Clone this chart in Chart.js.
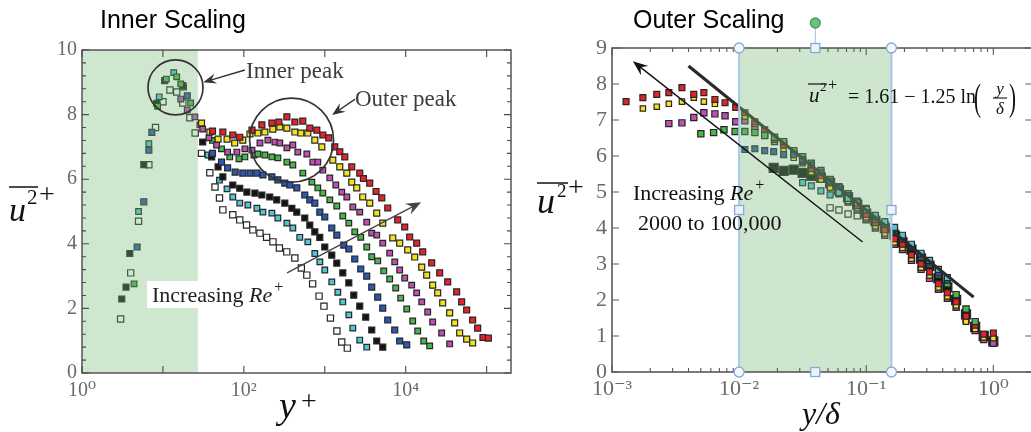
<!DOCTYPE html>
<html>
<head>
<meta charset="utf-8">
<script src="https://cdn.jsdelivr.net/npm/chart.js@4.4.1/dist/chart.umd.min.js"></script>
<style>
  html, body { margin: 0; padding: 0; background: #fff; overflow: hidden; width: 1031px; height: 432px; }
  #wrap { position: relative; width: 1031px; height: 432px; overflow: hidden; background: #fff; }
  #c1 { position: absolute; left: 0; top: 0; }
  #c2 { position: absolute; left: 520px; top: 0; }
</style>
</head>
<body>
<div id="wrap">
  <canvas id="c1" width="520" height="432"></canvas>
  <canvas id="c2" width="520" height="432"></canvas>
</div>
<script>
// ================= DATA: Inner scaling (left) =================
const innerXTicks = [1, 100, 10000];
const innerXTickLabels = ['10\u2070', '10\u00B2', '10\u2074'];
const innerYTicks = [0, 2, 4, 6, 8, 10];
const innerShade = [1, 27];           // y+ range of the green band

const innerWhiteYp = [3.0, 4.0, 5.0, 6.7, 8.1, 10, 12.2, 14.8, 17.6, 21.5, 25, 30, 38, 44, 50, 55, 73, 89, 108, 129, 158, 191, 229, 275, 339, 427, 513, 600, 708, 850, 977, 1175, 1413, 1620, 1900];
const innerWhiteU  = [1.67, 3.1, 4.7, 6.45, 7.6, 8.4, 8.76, 8.7, 8.36, 7.9, 7.43, 6.8, 6.2, 5.76, 5.42, 5.05, 4.9, 4.74, 4.58, 4.43, 4.33, 4.2, 4.06, 3.87, 3.75, 3.56, 3.25, 3.03, 2.76, 2.38, 2.07, 1.7, 1.3, 0.96, 0.77];

const innerCyanYp = [5.0, 6.7, 9.0, 13.6, 18, 36, 50, 62, 73, 89, 112, 145, 172, 222, 263, 340, 403, 491, 617, 753, 868, 1000, 1220, 1448, 1668, 1981, 2218, 2704, 3300];
const innerCyanU  = [5.0, 7.1, 8.55, 9.3, 8.85, 6.75, 5.97, 5.7, 5.45, 5.26, 5.2, 5.1, 4.98, 4.95, 4.8, 4.64, 4.49, 4.2, 4.06, 3.7, 3.44, 3.19, 2.82, 2.5, 2.2, 1.8, 1.39, 1.02, 0.8];

const innerBlackYp = [3.1, 3.5, 3.9, 5.8, 8.4, 10.5, 17.6, 31, 40, 48, 55, 73, 89, 109, 137, 167, 209, 255, 321, 392, 451, 566, 653, 753, 868, 1000, 1220, 1407, 1668, 1981, 2281, 2704, 3207, 3803, 4386, 5203];
const innerBlackU  = [2.29, 2.66, 3.7, 6.45, 8.35, 9.05, 8.9, 7.15, 6.69, 6.38, 6.07, 5.82, 5.72, 5.6, 5.57, 5.51, 5.45, 5.36, 5.26, 5.1, 4.98, 4.8, 4.58, 4.37, 4.2, 3.9, 3.65, 3.4, 3.1, 2.79, 2.41, 2.07, 1.73, 1.33, 0.99, 0.8];

const innerBlueYp = [4.8, 5.8, 6.7, 7.3, 20, 41, 53, 63, 78, 97, 119, 145, 172, 222, 263, 321, 370, 451, 566, 653, 753, 868, 1000, 1220, 1407, 1717, 1981, 2346, 2782, 3300, 3803, 4510, 5203, 5997, 7318, 8430, 10290];
const innerBlueU  = [3.9, 5.3, 6.9, 7.45, 8.58, 6.8, 6.53, 6.35, 6.22, 6.19, 6.19, 6.19, 6.13, 6.07, 5.98, 5.88, 5.82, 5.73, 5.51, 5.36, 5.26, 4.98, 4.83, 4.49, 4.27, 3.96, 3.84, 3.53, 3.22, 3.0, 2.66, 2.35, 2.01, 1.64, 1.33, 0.99, 0.87];

const innerGreenYp = [4.4, 8.6, 11, 14.8, 16.6, 22, 41, 53, 67, 87, 103, 133, 149, 182, 222, 263, 340, 403, 535, 692, 820, 945, 1153, 1407, 1668, 1981, 2346, 2782, 3300, 3803, 4510, 5350, 6340, 7530, 8670, 10290, 12200, 14060, 16690, 19780];
const innerGreenU  = [2.76, 8.26, 9.1, 9.17, 8.95, 8.36, 7.2, 6.94, 6.69, 6.63, 6.69, 6.75, 6.78, 6.75, 6.69, 6.66, 6.53, 6.44, 6.19, 5.91, 5.73, 5.57, 5.36, 5.17, 4.86, 4.64, 4.37, 4.2, 3.9, 3.6, 3.47, 3.16, 2.91, 2.63, 2.32, 1.98, 1.61, 1.3, 0.99, 0.84];

const innerMagentaYp = [16.6, 20, 24.8, 28.6, 31, 37, 46, 63, 82, 103, 126, 158, 198, 242, 278, 340, 403, 464, 600, 711, 820, 945, 1153, 1368, 1622, 1871, 2218, 2704, 3300, 3803, 4386, 5203, 6340, 7318, 8430, 9720, 11860, 13660, 15770, 18690, 21540, 27810, 34930];
const innerMagentaU  = [8.48, 8.14, 7.93, 7.68, 7.55, 7.28, 7.06, 6.84, 6.84, 6.94, 6.9, 7.12, 7.21, 7.15, 7.12, 6.97, 7.06, 6.84, 6.78, 6.53, 6.53, 6.28, 6.04, 5.82, 5.6, 5.45, 5.14, 4.98, 4.67, 4.33, 4.27, 4.02, 3.71, 3.44, 3.19, 2.94, 2.72, 2.48, 2.2, 1.89, 1.58, 1.24, 0.9];

const innerYellowYp = [30, 38, 48, 62, 77, 97, 119, 149, 182, 228, 278, 340, 427, 506, 617, 753, 919, 1256, 1532, 1871, 2154, 2483, 2944, 3594, 4386, 5203, 6918, 8430, 10590, 12910, 15770, 18160, 21540, 24830, 28620, 34930, 40240, 46420, 56630, 67140];
const innerYellowU  = [7.74, 7.46, 7.24, 7.24, 7.12, 7.21, 7.4, 7.43, 7.46, 7.55, 7.62, 7.58, 7.46, 7.43, 7.43, 7.21, 7.0, 6.59, 6.38, 6.19, 5.91, 5.73, 5.45, 5.26, 4.95, 4.64, 4.18, 4.02, 3.81, 3.59, 3.28, 3.03, 2.72, 2.48, 2.17, 1.86, 1.55, 1.24, 1.05, 0.93];

const innerRedYp = [41, 55, 73, 89, 126, 167, 222, 271, 340, 427, 535, 653, 797, 945, 1120, 1329, 1532, 1767, 2154, 2704, 3000, 3594, 4300, 5060, 5997, 7966, 9720, 11200, 13660, 16220, 20940, 26280, 33020, 42590, 49120, 56630, 67140, 77490, 90000, 105000];
const innerRedU  = [7.49, 7.46, 7.37, 7.3, 7.52, 7.68, 7.74, 7.77, 7.93, 7.77, 7.8, 7.58, 7.52, 7.37, 7.28, 7.0, 6.85, 6.69, 6.38, 6.19, 6.02, 5.88, 5.62, 5.42, 5.11, 4.74, 4.52, 4.21, 4.02, 3.75, 3.41, 3.1, 2.82, 2.51, 2.2, 1.95, 1.64, 1.39, 1.1, 1.08];

// annotations (data coordinates: y+, u2+)
const innerPeakCircle = [14.3, 8.84];
const outerPeakCircle = [389, 7.21];
const innerPeakArrow = [[103, 9.38], [31.5, 9.0]];
const outerPeakArrow = [[2367, 8.48], [1231, 7.99]];
const innerReArrow   = [[342, 3.10], [15500, 5.29]];

// ================= DATA: Outer scaling (right) =================
const outerXTicks = [0.001, 0.01, 0.1, 1];
const outerXTickLabels = ['10\u207B\u00B3', '10\u207B\u00B2', '10\u207B\u00B9', '10\u2070'];
const outerYTicks = [0, 1, 2, 3, 4, 5, 6, 7, 8, 9];
const outerShade = [0.01, 0.158];

const outerRedYd = [0.00129, 0.00175, 0.00225, 0.0028, 0.00355, 0.0044, 0.00528, 0.00645, 0.00775, 0.0094, 0.0111, 0.0133, 0.0159, 0.019, 0.0224, 0.0269, 0.0316, 0.037, 0.044, 0.052, 0.061, 0.072, 0.085, 0.1, 0.118, 0.14, 0.167, 0.193, 0.227, 0.27, 0.315, 0.37, 0.435, 0.51, 0.61, 0.72, 0.84, 1.0];
const outerRedU  = [7.51, 7.62, 7.71, 7.76, 7.9, 7.71, 7.76, 7.57, 7.48, 7.35, 7.2, 6.95, 6.73, 6.46, 6.3, 6.08, 5.85, 5.65, 5.45, 5.25, 5.05, 4.85, 4.62, 4.38, 4.15, 3.95, 3.7, 3.55, 3.25, 3.0, 2.78, 2.45, 2.2, 1.95, 1.55, 1.3, 1.05, 1.08];

const outerYellowYd = [0.00175, 0.00225, 0.0028, 0.00355, 0.0044, 0.00528, 0.00645, 0.0111, 0.0133, 0.0159, 0.019, 0.0224, 0.0269, 0.0316, 0.037, 0.044, 0.052, 0.061, 0.072, 0.085, 0.1, 0.118, 0.14, 0.167, 0.193, 0.227, 0.27, 0.315, 0.37, 0.435, 0.51, 0.61, 0.72, 0.84, 1.0];
const outerYellowU  = [7.32, 7.37, 7.45, 7.51, 7.62, 7.51, 7.45, 7.1, 6.9, 6.62, 6.4, 6.2, 5.95, 5.8, 5.55, 5.35, 5.12, 4.95, 4.75, 4.55, 4.3, 4.05, 3.85, 3.6, 3.45, 3.15, 2.9, 2.68, 2.35, 2.1, 1.85, 1.4, 1.2, 0.96, 0.94];

const outerMagentaYd = [0.0028, 0.00355, 0.0044, 0.00528, 0.00645, 0.00775, 0.0094, 0.0111, 0.0133, 0.0159, 0.019, 0.0224, 0.0269, 0.0316, 0.037, 0.044, 0.052, 0.061, 0.072, 0.085, 0.1, 0.118, 0.14, 0.167, 0.193, 0.227, 0.27, 0.315, 0.37, 0.435, 0.51, 0.61, 0.72, 0.84, 1.0];
const outerMagentaU  = [6.9, 6.92, 7.07, 7.2, 7.17, 7.12, 6.95, 6.98, 6.8, 6.6, 6.4, 6.35, 6.1, 5.85, 5.62, 5.4, 5.15, 4.95, 4.72, 4.5, 4.25, 4.0, 3.8, 3.55, 3.4, 3.1, 2.85, 2.6, 2.3, 2.05, 1.8, 1.45, 1.15, 0.9, 0.8];

const outerGreenYd = [0.005, 0.0063, 0.0076, 0.0093, 0.0111, 0.0133, 0.0159, 0.019, 0.0224, 0.0269, 0.0316, 0.037, 0.044, 0.052, 0.061, 0.072, 0.085, 0.1, 0.118, 0.14, 0.167, 0.193, 0.227, 0.27, 0.315, 0.37, 0.435, 0.51, 0.61, 0.72];
const outerGreenU  = [6.62, 6.65, 6.73, 6.68, 6.68, 6.65, 6.57, 6.52, 6.4, 6.15, 5.98, 5.8, 5.6, 5.35, 5.15, 4.95, 4.72, 4.5, 4.25, 4.1, 3.9, 3.7, 3.48, 3.2, 3.0, 2.7, 2.45, 2.15, 1.75, 1.4];

const outerBlueYd = [0.0111, 0.0133, 0.0159, 0.0187, 0.0224, 0.0269, 0.0316, 0.037, 0.044, 0.052, 0.061, 0.072, 0.085, 0.1, 0.118, 0.14, 0.167, 0.193, 0.227, 0.27, 0.315, 0.37, 0.435];
const outerBlueU  = [6.18, 6.2, 6.15, 6.12, 6.04, 6.04, 5.9, 5.75, 5.55, 5.3, 5.12, 4.9, 4.75, 4.55, 4.3, 4.1, 3.98, 3.7, 3.5, 3.25, 3.05, 2.75, 2.55];

const outerBlackYd = [0.0187, 0.0224, 0.0269, 0.0316, 0.037, 0.044, 0.052, 0.061, 0.072, 0.085, 0.1, 0.118, 0.14, 0.167, 0.193, 0.227, 0.27, 0.315, 0.37, 0.435, 0.51, 0.61, 0.72, 0.84, 1.0];
const outerBlackU  = [5.67, 5.59, 5.62, 5.53, 5.45, 5.4, 5.25, 5.05, 4.85, 4.65, 4.4, 4.2, 4.0, 3.8, 3.6, 3.4, 3.15, 2.95, 2.6, 2.35, 2.0, 1.6, 1.25, 1.0, 0.85];

const outerCyanYd = [0.0316, 0.037, 0.044, 0.052, 0.061, 0.072, 0.085, 0.1, 0.118, 0.14, 0.167, 0.193, 0.227, 0.27, 0.315, 0.37, 0.435];
const outerCyanU  = [5.26, 5.17, 5.03, 4.92, 4.98, 4.82, 4.7, 4.52, 4.35, 4.18, 4.02, 3.8, 3.55, 3.3, 3.1, 2.85, 2.62];

const outerWhiteYd = [0.052, 0.061, 0.072, 0.085, 0.1, 0.118, 0.14];
const outerWhiteU  = [4.56, 4.5, 4.39, 4.34, 4.23, 4.1, 3.95];

// log-law fit line end points
const logLawYd = [0.004, 0.7];
const logLawU  = [8.5, 2.08];
const outerReArrow = [[0.0937, 3.61], [0.00146, 8.63]];

// ================= STYLE =================
const COL = { white:'#ffffff', cyan:'#52c6d8', black:'#141414', blue:'#2a58b6', green:'#48b648', magenta:'#c04fb4', yellow:'#f4e31c', red:'#e6222c' };
const SERIF = '"Liberation Serif", "DejaVu Serif", serif';
const SANS = '"Liberation Sans", Arial, sans-serif';
Chart.defaults.font.family = SERIF;

function pts(xs, ys) { return xs.map((v, i) => ({ x: v, y: ys[i] })); }
function sq(xs, ys, fill, r, order) {
  return { data: pts(xs, ys), showLine: false, pointStyle: 'rect', pointRadius: r, pointHoverRadius: r,
    pointBackgroundColor: fill, pointBorderColor: '#262626', pointBorderWidth: 1.2, order: order || 1 };
}

function T(ctx, s, x, y, font, color, align) {
  ctx.font = font; ctx.fillStyle = color; ctx.textAlign = align || 'left'; ctx.textBaseline = 'alphabetic';
  ctx.fillText(s, x, y); return ctx.measureText(s).width;
}
function tall(ctx, s, x, y, size, stretch, color) {
  ctx.save(); ctx.translate(x, y); ctx.scale(1, stretch);
  ctx.font = size + 'px ' + SERIF; ctx.fillStyle = color; ctx.textAlign = 'left'; ctx.textBaseline = 'alphabetic';
  ctx.fillText(s, 0, 0); ctx.restore();
}
function hline(ctx, x1, x2, y, lw, color) {
  ctx.beginPath(); ctx.strokeStyle = color; ctx.lineWidth = lw; ctx.moveTo(x1, y); ctx.lineTo(x2, y); ctx.stroke();
}
function arrow(ctx, x1, y1, x2, y2, color, lw, head) {
  ctx.save(); ctx.strokeStyle = color; ctx.fillStyle = color; ctx.lineWidth = lw;
  const a = Math.atan2(y2 - y1, x2 - x1), c = Math.cos(a), s = Math.sin(a);
  const bx = x2 - head * c, by = y2 - head * s;
  ctx.beginPath(); ctx.moveTo(x1, y1); ctx.lineTo(x2 - head * 0.6 * c, y2 - head * 0.6 * s); ctx.stroke();
  ctx.beginPath(); ctx.moveTo(x2, y2);
  ctx.lineTo(bx + head * 0.4 * s, by - head * 0.4 * c);
  ctx.lineTo(x2 - head * 0.65 * c, y2 - head * 0.65 * s);
  ctx.lineTo(bx - head * 0.4 * s, by + head * 0.4 * c);
  ctx.closePath(); ctx.fill(); ctx.restore();
}
function frameTicks(chart, o) {
  const { ctx, chartArea: a } = chart; const x = chart.scales.x, y = chart.scales.y;
  ctx.save(); ctx.strokeStyle = o.color; ctx.lineWidth = o.lw;
  ctx.strokeRect(a.left, a.top, a.right - a.left, a.bottom - a.top);
  ctx.beginPath(); ctx.lineWidth = 1.1;
  const tx = (v, L) => { const p = x.getPixelForValue(v); if (p < a.left - 0.5 || p > a.right + 0.5) return;
    ctx.moveTo(p, a.bottom); ctx.lineTo(p, a.bottom - L); ctx.moveTo(p, a.top); ctx.lineTo(p, a.top + L); };
  const ty = (v, L) => { const p = y.getPixelForValue(v);
    ctx.moveTo(a.left, p); ctx.lineTo(a.left + L, p); ctx.moveTo(a.right, p); ctx.lineTo(a.right - L, p); };
  o.xMajor.forEach(v => tx(v, 7)); o.xMinor.forEach(v => tx(v, 4));
  o.yMajor.forEach(v => ty(v, 7)); o.yMinor.forEach(v => ty(v, 4));
  ctx.stroke(); ctx.restore();
}
function logMinors(lo, hi) { const out = []; for (let d = lo; d < hi; d *= 10) for (let m = 2; m <= 9; m++) out.push(m * d); return out; }
function linMinors(lo, hi, step, major) { const out = []; for (let v = lo; v <= hi + 1e-9; v += step) { if (major.every(m => Math.abs(m - v) > 1e-6)) out.push(+v.toFixed(3)); } return out; }

// ================= LEFT CHART =================
const innerPlugin = {
  id: 'innerDeco',
  afterDatasetsDraw(chart) {
    const { ctx, chartArea: a } = chart; const x = chart.scales.x, y = chart.scales.y;
    const X = v => x.getPixelForValue(v), Y = v => y.getPixelForValue(v);
    ctx.save();
    ctx.fillStyle = 'rgba(118,186,118,0.35)';
    ctx.fillRect(X(innerShade[0]), a.top, X(innerShade[1]) - X(innerShade[0]), a.bottom - a.top);
    frameTicks(chart, { color: '#4a4a4a', lw: 1.4, xMajor: [1, 10, 100, 1000, 10000, 100000], xMinor: [],
      yMajor: innerYTicks, yMinor: linMinors(0, 10, 0.4, innerYTicks) });
    ctx.strokeStyle = '#333'; ctx.lineWidth = 1.7;
    ctx.beginPath(); ctx.arc(X(innerPeakCircle[0]), Y(innerPeakCircle[1]), 27.5, 0, 2 * Math.PI); ctx.stroke();
    ctx.beginPath(); ctx.arc(X(outerPeakCircle[0]), Y(outerPeakCircle[1]), 42, 0, 2 * Math.PI); ctx.stroke();
    arrow(ctx, X(innerPeakArrow[0][0]), Y(innerPeakArrow[0][1]), X(innerPeakArrow[1][0]), Y(innerPeakArrow[1][1]), '#333', 1.4, 13);
    arrow(ctx, X(outerPeakArrow[0][0]), Y(outerPeakArrow[0][1]), X(outerPeakArrow[1][0]), Y(outerPeakArrow[1][1]), '#333', 1.4, 13);
    arrow(ctx, X(innerReArrow[0][0]), Y(innerReArrow[0][1]), X(innerReArrow[1][0]), Y(innerReArrow[1][1]), '#444', 1.4, 15);
    T(ctx, 'Inner peak', 246, 78, '23px ' + SERIF, '#3d3d3d');
    T(ctx, 'Outer peak', 355, 106, '23px ' + SERIF, '#3d3d3d');
    ctx.fillStyle = '#fff'; ctx.fillRect(147, 281, 144, 27);
    let w = T(ctx, 'Increasing ', 152, 302, '22px ' + SERIF, '#222');
    w += T(ctx, 'Re', 152 + w, 302, 'italic 22px ' + SERIF, '#222');
    T(ctx, '+', 154 + w, 292, '16px ' + SERIF, '#222');
    T(ctx, 'Inner Scaling', 100, 28, '25px ' + SANS, '#000');
    T(ctx, 'u', 9, 221, 'italic 34px ' + SERIF, '#111');
    T(ctx, '2', 27, 204, '21px ' + SERIF, '#111');
    hline(ctx, 9, 38, 187, 1.5, '#111');
    T(ctx, '+', 39, 203, '28px ' + SERIF, '#111');
    T(ctx, 'y', 279, 418, 'italic 38px ' + SERIF, '#111');
    T(ctx, '+', 301, 410, '28px ' + SERIF, '#111');
    ctx.restore();
  }
};

new Chart(document.getElementById('c1'), {
  type: 'scatter',
  data: { datasets: [
    sq(innerRedYp, innerRedU, COL.red, 4.2),
    sq(innerYellowYp, innerYellowU, COL.yellow, 4.2),
    sq(innerMagentaYp, innerMagentaU, COL.magenta, 4.0),
    sq(innerGreenYp, innerGreenU, COL.green, 4.0),
    sq(innerBlueYp, innerBlueU, COL.blue, 4.2),
    sq(innerBlackYp, innerBlackU, COL.black, 4.2),
    sq(innerCyanYp, innerCyanU, COL.cyan, 4.0),
    sq(innerWhiteYp, innerWhiteU, COL.white, 4.4)
  ]},
  options: {
    responsive: false, devicePixelRatio: 1, animation: false, events: [],
    layout: { padding: { left: 0, top: 50, right: 9, bottom: 0 } },
    plugins: { legend: { display: false }, tooltip: { enabled: false }, title: { display: false } },
    scales: {
      x: { type: 'logarithmic', min: 1, max: 2e5, grid: { display: false, drawTicks: false }, border: { display: false },
        ticks: { autoSkip: false, maxRotation: 0, padding: 6, color: '#6a6a6a', font: { size: 20, family: SERIF },
          callback: v => { const i = innerXTicks.indexOf(v); return i >= 0 ? innerXTickLabels[i] : null; } },
        afterBuildTicks: s => { s.ticks = innerXTicks.map(v => ({ value: v })); },
        afterFit: s => { s.height = 59; } },
      y: { type: 'linear', min: 0, max: 10, grid: { display: false, drawTicks: false }, border: { display: false },
        ticks: { autoSkip: false, padding: 5, color: '#6a6a6a', font: { size: 20, family: SERIF } },
        afterBuildTicks: s => { s.ticks = innerYTicks.map(v => ({ value: v })); },
        afterFit: s => { s.width = 82; } }
    }
  },
  plugins: [innerPlugin]
});

// ================= RIGHT CHART =================
const outerPlugin = {
  id: 'outerDeco',
  afterDatasetsDraw(chart) {
    const { ctx, chartArea: a } = chart; const x = chart.scales.x, y = chart.scales.y;
    const X = v => x.getPixelForValue(v), Y = v => y.getPixelForValue(v);
    ctx.save();
    const l = X(outerShade[0]), r = X(outerShade[1]);
    ctx.fillStyle = 'rgba(118,186,118,0.36)';
    ctx.fillRect(l, a.top, r - l, a.bottom - a.top);
    frameTicks(chart, { color: '#5a5a5a', lw: 1.6, xMajor: outerXTicks, xMinor: logMinors(0.001, 1),
      yMajor: outerYTicks, yMinor: [] });
    ctx.strokeStyle = '#a9c7ea'; ctx.lineWidth = 2;
    ctx.beginPath(); ctx.moveTo(l, a.top); ctx.lineTo(l, a.bottom); ctx.moveTo(r, a.top); ctx.lineTo(r, a.bottom); ctx.stroke();
    const mx = (l + r) / 2, my = (a.top + a.bottom) / 2;
    ctx.strokeStyle = '#9dbbe0'; ctx.lineWidth = 1;
    ctx.beginPath(); ctx.moveTo(mx, a.top); ctx.lineTo(mx, a.top - 22); ctx.stroke();
    ctx.lineWidth = 1.3;
    [[l, a.top], [r, a.top], [l, a.bottom], [r, a.bottom]].forEach(p => {
      ctx.beginPath(); ctx.arc(p[0], p[1], 5, 0, 2 * Math.PI); ctx.fillStyle = '#f3f7fc'; ctx.fill(); ctx.strokeStyle = '#86a9d8'; ctx.stroke(); });
    [[mx, a.top], [mx, a.bottom], [l, my], [r, my]].forEach(p => {
      ctx.fillStyle = '#eef3fa'; ctx.fillRect(p[0] - 4.5, p[1] - 4.5, 9, 9); ctx.strokeStyle = '#86a9d8'; ctx.strokeRect(p[0] - 4.5, p[1] - 4.5, 9, 9); });
    ctx.beginPath(); ctx.arc(mx, a.top - 25, 5, 0, 2 * Math.PI); ctx.fillStyle = '#6cbf80'; ctx.fill(); ctx.strokeStyle = '#4c9a62'; ctx.stroke();
    arrow(ctx, X(outerReArrow[0][0]), Y(outerReArrow[0][1]), X(outerReArrow[1][0]), Y(outerReArrow[1][1]), '#111', 1.4, 15);
    // formula
    T(ctx, 'u', 289, 102, 'italic 21px ' + SERIF, '#111');
    T(ctx, '2', 300, 91, '13px ' + SERIF, '#111');
    hline(ctx, 288, 307, 84, 1.2, '#111');
    T(ctx, '+', 308, 90, '16px ' + SERIF, '#111');
    T(ctx, '= 1.61 \u2212 1.25 ln', 328, 103, '20px ' + SERIF, '#111');
    tall(ctx, '(', 454, 110, 21, 1.85, '#111');
    T(ctx, 'y', 480, 94, 'italic 17px ' + SERIF, '#111', 'center');
    hline(ctx, 473, 487, 98, 1.1, '#111');
    T(ctx, '\u03B4', 480, 114, 'italic 17px ' + SERIF, '#111', 'center');
    tall(ctx, ')', 489, 110, 21, 1.85, '#111');
    let w = T(ctx, 'Increasing ', 113, 200, '22px ' + SERIF, '#111');
    w += T(ctx, 'Re', 113 + w, 200, 'italic 22px ' + SERIF, '#111');
    T(ctx, '+', 115 + w, 190, '16px ' + SERIF, '#111');
    T(ctx, '2000 to 100,000', 118, 230, '22px ' + SERIF, '#111');
    T(ctx, 'Outer Scaling', 113, 28, '25px ' + SANS, '#000');
    T(ctx, 'u', 17, 213, 'italic 36px ' + SERIF, '#111');
    T(ctx, '2', 37, 197, '19px ' + SERIF, '#111');
    hline(ctx, 17, 48, 183, 1.5, '#111');
    T(ctx, '+', 48, 196, '28px ' + SERIF, '#111');
    T(ctx, 'y/\u03B4', 282, 424, 'italic 32px ' + SERIF, '#111');
    ctx.restore();
  }
};

new Chart(document.getElementById('c2'), {
  type: 'scatter',
  data: { datasets: [
    { data: pts(logLawYd, logLawU), showLine: true, borderColor: '#2b2b2b', borderWidth: 3.2, pointRadius: 0, order: 0 },
    sq(outerCyanYd, outerCyanU, COL.cyan, 4.2),
    sq(outerBlueYd, outerBlueU, COL.blue, 4.2),
    sq(outerGreenYd, outerGreenU, COL.green, 4.4),
    sq(outerRedYd, outerRedU, COL.red, 4.2),
    sq(outerYellowYd, outerYellowU, COL.yellow, 3.8),
    sq(outerMagentaYd, outerMagentaU, COL.magenta, 4.4),
    sq(outerWhiteYd, outerWhiteU, COL.white, 4.4, 2),
    sq(outerBlackYd, outerBlackU, COL.black, 6.4, 3)
  ]},
  options: {
    responsive: false, devicePixelRatio: 1, animation: false, events: [],
    layout: { padding: { left: 0, top: 48, right: 7, bottom: 0 } },
    plugins: { legend: { display: false }, tooltip: { enabled: false }, title: { display: false } },
    scales: {
      x: { type: 'logarithmic', min: 0.001, max: 2.03, grid: { display: false, drawTicks: false }, border: { display: false },
        ticks: { autoSkip: false, maxRotation: 0, padding: 4, color: '#6a6a6a', font: { size: 22, family: SERIF },
          callback: v => { const i = outerXTicks.findIndex(t => Math.abs(t - v) / t < 1e-6); return i >= 0 ? outerXTickLabels[i] : null; } },
        afterBuildTicks: s => { s.ticks = outerXTicks.map(v => ({ value: v })); },
        afterFit: s => { s.height = 60; } },
      y: { type: 'linear', min: 0, max: 9, grid: { display: false, drawTicks: false }, border: { display: false },
        ticks: { autoSkip: false, padding: 5, color: '#6a6a6a', font: { size: 22, family: SERIF } },
        afterBuildTicks: s => { s.ticks = outerYTicks.map(v => ({ value: v })); },
        afterFit: s => { s.width = 92; } }
    }
  },
  plugins: [outerPlugin]
});
</script>
</body>
</html>
